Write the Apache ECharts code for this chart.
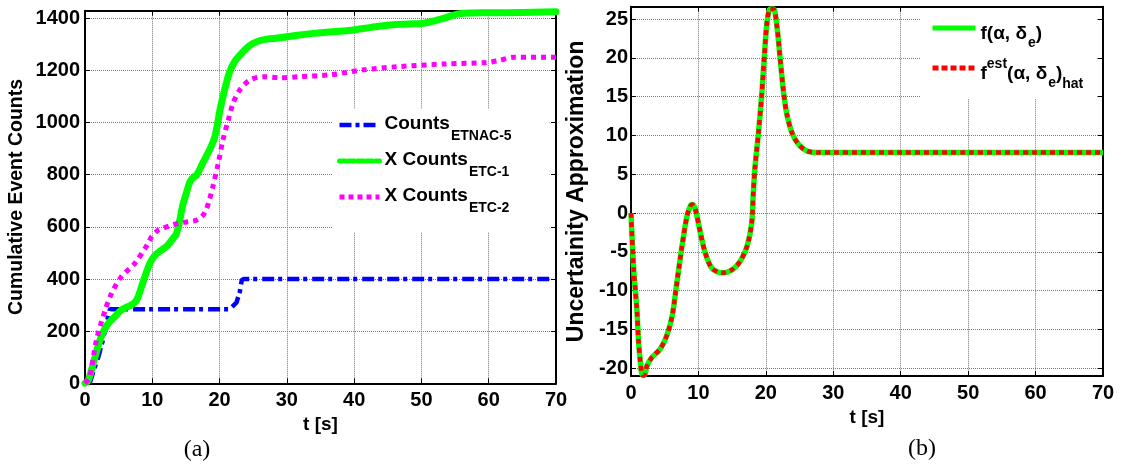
<!DOCTYPE html>
<html><head><meta charset="utf-8">
<script src="https://cdn.jsdelivr.net/npm/echarts@6/dist/echarts.min.js"></script>
<style>html,body{margin:0;padding:0;background:#fff}#c{width:1121px;height:468px}</style>
</head><body><div id="c"></div>
<script>
// ---------- data (a) ----------
const etnacT = [0.7, 1.3, 2.0, 2.6, 3.2, 3.7, 5, 10, 15, 21.5, 22.5, 23.0, 23.3, 23.6, 30, 40, 50, 60, 69.3];
const etnacV = [0, 50, 102, 160, 230, 284, 284, 284, 284, 284, 309, 350, 396, 400, 400, 400, 400, 400, 400];

const etc1T = [0, 0.5, 1.5, 2.4, 3.2, 3.95, 4.7, 5.4, 6.2, 6.9, 7.5, 7.9, 8.4, 8.9, 9.4, 9.9, 10.6, 11.4, 12.3, 13.1, 13.6, 14.1, 14.5, 14.9, 15.3, 15.6, 16.1, 16.6, 17.5, 18.5, 19.3, 20.06, 20.6, 21.0, 21.5, 22.2, 23.0, 24.0, 25.0, 26.0, 27.0, 29.0, 31.9, 33.9, 36.9, 39.9, 42.5, 45.3, 48, 50.3, 53, 56.2, 60, 65, 70];
const etc1V = [0, 13, 102, 179, 220, 243, 263, 281, 292, 300, 313, 332, 370, 409, 445, 473, 496, 511, 530, 556, 575, 627, 680, 716, 750, 773, 790, 799, 845, 895, 946, 1048, 1110, 1151, 1195, 1232, 1258, 1285, 1304, 1314, 1320, 1325, 1336, 1342, 1348, 1355, 1365, 1374, 1378, 1381, 1398, 1419, 1421, 1422, 1425];

const etc2T = [0, 0.7, 1.7, 3.0, 3.95, 5.4, 7.4, 9.4, 9.9, 10.9, 11.6, 12.9, 14.1, 15.4, 16.6, 17.4, 18.0, 18.5, 19.0, 19.8, 20.5, 21.3, 22.0, 23.0, 24.5, 26.5, 29, 31.9, 36.4, 41.3, 46.3, 53.7, 59.7, 61.5, 63.7, 70];
const etc2V = [0, 25, 166, 281, 345, 409, 460, 537, 562, 588, 595, 607, 614, 620, 626, 640, 665, 705, 754, 844, 933, 1010, 1074, 1125, 1163, 1176, 1172, 1176, 1183, 1202, 1214, 1225, 1230, 1238, 1250, 1250];

// ---------- data (b) ----------
const fT = [0, 0.15, 0.4, 0.64, 0.9, 1.1, 1.4, 1.7, 1.95, 2.37, 3.1, 4.35, 5.3, 6.1, 6.8, 7.56, 8.3, 8.8, 9.1, 9.5, 10.3, 11.0, 12.0, 13.5, 15.0, 16.2, 17.2, 17.9, 18.14, 18.4, 18.9, 19.4, 19.8, 20.2, 20.65, 21.15, 21.65, 22.1, 22.6, 23.1, 23.9, 24.9, 26.1, 27.6, 30, 40, 50, 60, 70];
const fV = [0, -3, -7.3, -9.9, -12.8, -16.3, -19.3, -20.9, -20.9, -19.7, -18.6, -17.5, -15.8, -13.3, -9.0, -4.3, -0.4, 0.9, 1.1, 0.64, -2.57, -5.1, -7.1, -7.7, -7.3, -6.2, -4.3, -1.3, 2.6, 6, 10.3, 15.4, 20.5, 24.8, 26.3, 26.3, 24, 20.1, 15.8, 12.8, 10.3, 8.8, 8.0, 7.8, 7.8, 7.8, 7.8, 7.8, 7.8];
const fHatV = fV.slice();

const xTickStep = 10;
const leftYStep = 200;
const rightYStep = 5;

const zip = (a, b) => a.map((x, i) => [x, b[i]]);

const FONT = "'Liberation Sans', Arial, sans-serif";
const lbl = (margin, fmt) => ({fontSize: 20, fontWeight: 'bold', color: '#000', fontFamily: FONT, margin: margin, formatter: fmt});
const axLine = {onZero: false, lineStyle: {color: '#000', width: 2}};
const tick = {inside: true, length: 5, lineStyle: {color: '#000', width: 1}};
const split = {show: true, lineStyle: {color: '#7a7a7a', type: 'dotted', width: 1}};
const nameStyle = (sz) => ({fontSize: sz, fontWeight: 'bold', color: '#000', fontFamily: FONT});

function xAxes(grid, gap) {
  return [
    {gridIndex: grid, type: 'value', min: 0, max: 70, interval: xTickStep, position: 'bottom',
     axisLine: axLine, axisTick: tick, axisLabel: lbl(7), splitLine: split,
     name: 't [s]', nameLocation: 'middle', nameGap: gap, nameTextStyle: nameStyle(19)},
    {gridIndex: grid, type: 'value', min: 0, max: 70, interval: xTickStep, position: 'top',
     axisLine: axLine, axisTick: tick, axisLabel: {show: false}, splitLine: {show: false}}
  ];
}
function yAxes(grid, min, max, splitNumber, step, margin, name, nameGap, nameSize) {
  const fmt = v => (Math.abs(v % step) < 1e-6 ? String(v) : '');
  return [
    {gridIndex: grid, type: 'value', min: min, max: max, splitNumber: splitNumber, position: 'left',
     axisLine: axLine, axisTick: tick, axisLabel: lbl(margin, fmt), splitLine: split,
     name: name, nameLocation: 'middle', nameGap: nameGap, nameTextStyle: nameStyle(nameSize)},
    {gridIndex: grid, type: 'value', min: min, max: max, splitNumber: splitNumber, position: 'right',
     axisLine: axLine, axisTick: tick, axisLabel: {show: false}, splitLine: {show: false}}
  ];
}

const richL = {
  m: {fontSize: 19, fontWeight: 'bold', fontFamily: FONT, color: '#000', lineHeight: 22, verticalAlign: 'top'},
  s: {fontSize: 14, fontWeight: 'bold', fontFamily: FONT, color: '#000', lineHeight: 14, padding: [15, 0, 0, 1], verticalAlign: 'top'}
};
const richR = {
  m: {fontSize: 19, fontWeight: 'bold', fontFamily: FONT, color: '#000', lineHeight: 22, padding: [7, 0, 0, 0], verticalAlign: 'top'},
  p: {fontSize: 14, fontWeight: 'bold', fontFamily: FONT, color: '#000', lineHeight: 14, padding: [0, 0, 0, 0], verticalAlign: 'top'},
  s: {fontSize: 14, fontWeight: 'bold', fontFamily: FONT, color: '#000', lineHeight: 14, padding: [19, 0, 0, 1], verticalAlign: 'top'},
  h: {fontSize: 14, fontWeight: 'bold', fontFamily: FONT, color: '#000', lineHeight: 14, padding: [20, 0, 0, 0], verticalAlign: 'top'}
};
const legendText = {
  'ETNAC-5': '{m|Counts}{s|ETNAC-5}',
  'ETC-1': '{m|X Counts}{s|ETC-1}',
  'ETC-2': '{m|X Counts}{s|ETC-2}',
  'f': '{m|f(α, δ}{s|e}{m|)}',
  'fhat': '{m|f}{p|est}{m|(α, δ}{s|e}{m|)}{h|hat}'
};
const hiddenSymbol = {opacity: 0, color: 'rgba(0,0,0,0)', borderWidth: 0};

const option = {
  animation: false,
  backgroundColor: '#fff',
  grid: [
    {left: 85, right: 1121 - 556, top: 10.7, bottom: 468 - 383.3},
    {left: 631, right: 1121 - 1103, top: 6.7, bottom: 468 - 376}
  ],
  xAxis: [...xAxes(0, 29), ...xAxes(1, 32)],
  yAxis: [
    ...yAxes(0, 0, 1429, 7, leftYStep, 5, 'Cumulative Event Counts', 58, 19.5),
    ...yAxes(1, -21, 26.6, 9, rightYStep, 3, 'Uncertainity Approximation', 43, 23)
  ],
  legend: [
    {orient: 'vertical', left: 333, top: 109, padding: [5, 38, 17, 4], backgroundColor: '#fff',
     itemWidth: 40, itemHeight: 14, itemGap: 7, selectedMode: false, z: 1,
     itemStyle: hiddenSymbol,
     formatter: n => legendText[n], textStyle: {rich: richL},
     data: [
       {name: 'ETNAC-5', lineStyle: {type: [12, 4, 4, 4], width: 4.5}, itemStyle: hiddenSymbol},
       {name: 'ETC-1', lineStyle: {type: [6, 3], width: 5}, itemStyle: hiddenSymbol},
       {name: 'ETC-2', lineStyle: {type: [5, 4], width: 5}, itemStyle: hiddenSymbol}
     ]},
    {orient: 'vertical', left: 920, top: 8, padding: [9, 13, 8, 10], backgroundColor: '#fff',
     itemWidth: 43, itemHeight: 14, itemGap: 7, selectedMode: false, z: 1,
     itemStyle: hiddenSymbol,
     formatter: n => legendText[n], textStyle: {rich: richR},
     data: [
       {name: 'f', lineStyle: {width: 5}, itemStyle: hiddenSymbol},
       {name: 'fhat', lineStyle: {type: [6, 3], width: 5}, itemStyle: hiddenSymbol}
     ]}
  ],
  series: [
    {name: 'ETNAC-5', type: 'line', xAxisIndex: 0, yAxisIndex: 0, symbol: 'none',
     lineStyle: {color: '#0000ff', width: 4.5, type: [12, 4, 4, 5]}, itemStyle: {color: '#0000ff'},
     data: zip(etnacT, etnacV)},
    {name: 'ETC-1', type: 'line', xAxisIndex: 0, yAxisIndex: 0, symbol: 'none', smooth: 0.4,
     lineStyle: {color: '#00ff00', width: 7, cap: 'round', join: 'round'}, itemStyle: {color: '#00ff00'},
     data: zip(etc1T, etc1V)},
    {name: 'ETC-2', type: 'line', xAxisIndex: 0, yAxisIndex: 0, symbol: 'none', smooth: 0.3,
     lineStyle: {color: '#ff00ff', width: 5, type: [5, 5]}, itemStyle: {color: '#ff00ff'},
     data: zip(etc2T, etc2V)},
    {name: 'f', type: 'line', xAxisIndex: 2, yAxisIndex: 2, symbol: 'none', smooth: 0.3,
     lineStyle: {color: '#00ff00', width: 5.5}, itemStyle: {color: '#00ff00'},
     data: zip(fT, fV)},
    {name: 'fhat', type: 'line', xAxisIndex: 2, yAxisIndex: 2, symbol: 'none', smooth: 0.3,
     lineStyle: {color: '#ff0000', width: 4.5, type: [5, 4]}, itemStyle: {color: '#ff0000'},
     data: zip(fT, fHatV)}
  ],
  graphic: [
    {type: 'text', x: 197, y: 450, style: {text: '(a)', fill: '#000', font: "24px 'Liberation Serif', 'Times New Roman', serif", textAlign: 'center', textVerticalAlign: 'middle'}},
    {type: 'text', x: 922, y: 449, style: {text: '(b)', fill: '#000', font: "24px 'Liberation Serif', 'Times New Roman', serif", textAlign: 'center', textVerticalAlign: 'middle'}}
  ]
};
const chart = echarts.init(document.getElementById('c'), null, {renderer: 'canvas'});
chart.setOption(option);
</script>
</body></html>
